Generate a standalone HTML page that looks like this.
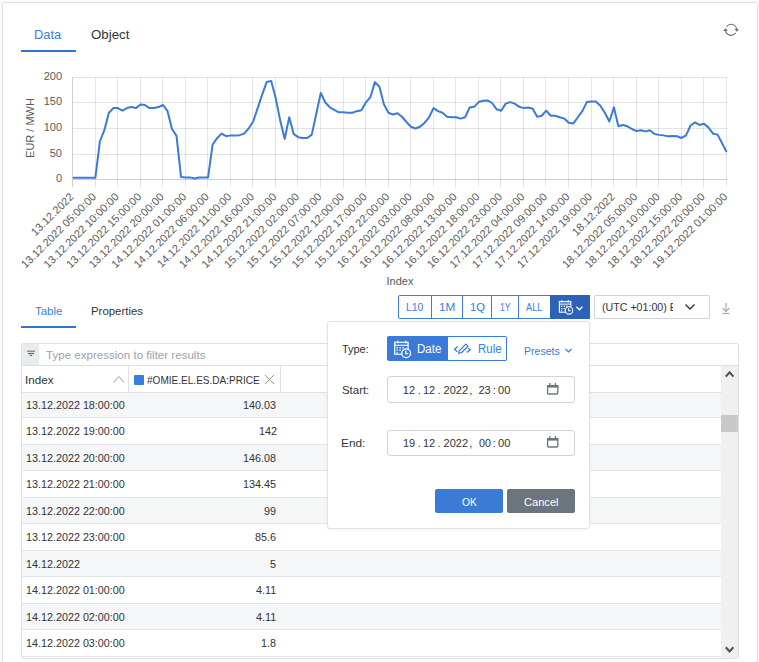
<!DOCTYPE html>
<html><head><meta charset="utf-8">
<style>
*{box-sizing:border-box;margin:0;padding:0}
html,body{width:759px;height:662px;overflow:hidden;background:#f8f9fa;font-family:"Liberation Sans",sans-serif;color:#333}
.abs{position:absolute}
.t{position:absolute;white-space:nowrap}
#panel{position:absolute;left:2px;top:2px;width:756px;height:700px;background:#fff;border:1px solid #dee2e6;border-radius:3px}
svg{position:absolute;overflow:visible}
.yl,.xl,.yt{font-family:"Liberation Sans",sans-serif;font-size:11px;fill:#5a5a5a}
.row{position:absolute;left:22px;width:699px;border-bottom:1px solid #e1e4e8}
</style></head><body>
<div id="panel"></div>
<div class="abs" style="left:21px;top:50px;width:55px;height:2px;background:#2f72d8"></div>
<!-- refresh icon -->
<svg style="left:722px;top:21px" width="18" height="18" viewBox="0 0 18 18">
<path d="M4.6 5.6 A5.5 5.5 0 0 1 14.6 8.3" fill="none" stroke="#727272" stroke-width="1.1"/>
<path d="M13.6 11.9 A5.5 5.5 0 0 1 3.6 9.4" fill="none" stroke="#727272" stroke-width="1.1"/>
<path d="M12.3 7.9 L17.1 7.9 L14.7 10.8 Z" fill="#727272"/>
<path d="M1.1 9.9 L5.9 9.9 L3.5 7.0 Z" fill="#727272"/>
</svg>
<svg style="left:0;top:0" width="759" height="300" viewBox="0 0 759 300">
<line x1="72" y1="179.5" x2="727" y2="179.5" stroke="#d0d0d0" stroke-width="1"/>
<text x="62" y="182.30" text-anchor="end" class="yl">0</text>
<line x1="72" y1="154.5" x2="727" y2="154.5" stroke="rgba(0,0,0,0.105)" stroke-width="1"/>
<text x="62" y="157.30" text-anchor="end" class="yl">50</text>
<line x1="72" y1="128.5" x2="727" y2="128.5" stroke="rgba(0,0,0,0.105)" stroke-width="1"/>
<text x="62" y="131.30" text-anchor="end" class="yl">100</text>
<line x1="72" y1="102.5" x2="727" y2="102.5" stroke="rgba(0,0,0,0.105)" stroke-width="1"/>
<text x="62" y="105.30" text-anchor="end" class="yl">150</text>
<line x1="72" y1="77.5" x2="727" y2="77.5" stroke="rgba(0,0,0,0.105)" stroke-width="1"/>
<text x="62" y="80.30" text-anchor="end" class="yl">200</text>
<line x1="72.5" y1="77" x2="72.5" y2="187" stroke="#d0d0d0" stroke-width="1"/>
<text transform="translate(74.40,197.5) rotate(-45)" text-anchor="end" class="xl">13.12.2022</text>
<line x1="95.5" y1="77" x2="95.5" y2="187" stroke="rgba(0,0,0,0.105)" stroke-width="1"/>
<text transform="translate(96.94,197.5) rotate(-45)" text-anchor="end" class="xl">13.12.2022 05:00:00</text>
<line x1="117.5" y1="77" x2="117.5" y2="187" stroke="rgba(0,0,0,0.105)" stroke-width="1"/>
<text transform="translate(119.49,197.5) rotate(-45)" text-anchor="end" class="xl">13.12.2022 10:00:00</text>
<line x1="140.5" y1="77" x2="140.5" y2="187" stroke="rgba(0,0,0,0.105)" stroke-width="1"/>
<text transform="translate(142.03,197.5) rotate(-45)" text-anchor="end" class="xl">13.12.2022 15:00:00</text>
<line x1="162.5" y1="77" x2="162.5" y2="187" stroke="rgba(0,0,0,0.105)" stroke-width="1"/>
<text transform="translate(164.58,197.5) rotate(-45)" text-anchor="end" class="xl">13.12.2022 20:00:00</text>
<line x1="185.5" y1="77" x2="185.5" y2="187" stroke="rgba(0,0,0,0.105)" stroke-width="1"/>
<text transform="translate(187.12,197.5) rotate(-45)" text-anchor="end" class="xl">14.12.2022 01:00:00</text>
<line x1="207.5" y1="77" x2="207.5" y2="187" stroke="rgba(0,0,0,0.105)" stroke-width="1"/>
<text transform="translate(209.67,197.5) rotate(-45)" text-anchor="end" class="xl">14.12.2022 06:00:00</text>
<line x1="230.5" y1="77" x2="230.5" y2="187" stroke="rgba(0,0,0,0.105)" stroke-width="1"/>
<text transform="translate(232.21,197.5) rotate(-45)" text-anchor="end" class="xl">14.12.2022 11:00:00</text>
<line x1="252.5" y1="77" x2="252.5" y2="187" stroke="rgba(0,0,0,0.105)" stroke-width="1"/>
<text transform="translate(254.76,197.5) rotate(-45)" text-anchor="end" class="xl">14.12.2022 16:00:00</text>
<line x1="275.5" y1="77" x2="275.5" y2="187" stroke="rgba(0,0,0,0.105)" stroke-width="1"/>
<text transform="translate(277.30,197.5) rotate(-45)" text-anchor="end" class="xl">14.12.2022 21:00:00</text>
<line x1="297.5" y1="77" x2="297.5" y2="187" stroke="rgba(0,0,0,0.105)" stroke-width="1"/>
<text transform="translate(299.85,197.5) rotate(-45)" text-anchor="end" class="xl">15.12.2022 02:00:00</text>
<line x1="320.5" y1="77" x2="320.5" y2="187" stroke="rgba(0,0,0,0.105)" stroke-width="1"/>
<text transform="translate(322.39,197.5) rotate(-45)" text-anchor="end" class="xl">15.12.2022 07:00:00</text>
<line x1="343.5" y1="77" x2="343.5" y2="187" stroke="rgba(0,0,0,0.105)" stroke-width="1"/>
<text transform="translate(344.94,197.5) rotate(-45)" text-anchor="end" class="xl">15.12.2022 12:00:00</text>
<line x1="365.5" y1="77" x2="365.5" y2="187" stroke="rgba(0,0,0,0.105)" stroke-width="1"/>
<text transform="translate(367.48,197.5) rotate(-45)" text-anchor="end" class="xl">15.12.2022 17:00:00</text>
<line x1="388.5" y1="77" x2="388.5" y2="187" stroke="rgba(0,0,0,0.105)" stroke-width="1"/>
<text transform="translate(390.03,197.5) rotate(-45)" text-anchor="end" class="xl">15.12.2022 22:00:00</text>
<line x1="410.5" y1="77" x2="410.5" y2="187" stroke="rgba(0,0,0,0.105)" stroke-width="1"/>
<text transform="translate(412.57,197.5) rotate(-45)" text-anchor="end" class="xl">16.12.2022 03:00:00</text>
<line x1="433.5" y1="77" x2="433.5" y2="187" stroke="rgba(0,0,0,0.105)" stroke-width="1"/>
<text transform="translate(435.12,197.5) rotate(-45)" text-anchor="end" class="xl">16.12.2022 08:00:00</text>
<line x1="455.5" y1="77" x2="455.5" y2="187" stroke="rgba(0,0,0,0.105)" stroke-width="1"/>
<text transform="translate(457.66,197.5) rotate(-45)" text-anchor="end" class="xl">16.12.2022 13:00:00</text>
<line x1="478.5" y1="77" x2="478.5" y2="187" stroke="rgba(0,0,0,0.105)" stroke-width="1"/>
<text transform="translate(480.21,197.5) rotate(-45)" text-anchor="end" class="xl">16.12.2022 18:00:00</text>
<line x1="500.5" y1="77" x2="500.5" y2="187" stroke="rgba(0,0,0,0.105)" stroke-width="1"/>
<text transform="translate(502.75,197.5) rotate(-45)" text-anchor="end" class="xl">16.12.2022 23:00:00</text>
<line x1="523.5" y1="77" x2="523.5" y2="187" stroke="rgba(0,0,0,0.105)" stroke-width="1"/>
<text transform="translate(525.30,197.5) rotate(-45)" text-anchor="end" class="xl">17.12.2022 04:00:00</text>
<line x1="545.5" y1="77" x2="545.5" y2="187" stroke="rgba(0,0,0,0.105)" stroke-width="1"/>
<text transform="translate(547.84,197.5) rotate(-45)" text-anchor="end" class="xl">17.12.2022 09:00:00</text>
<line x1="568.5" y1="77" x2="568.5" y2="187" stroke="rgba(0,0,0,0.105)" stroke-width="1"/>
<text transform="translate(570.39,197.5) rotate(-45)" text-anchor="end" class="xl">17.12.2022 14:00:00</text>
<line x1="591.5" y1="77" x2="591.5" y2="187" stroke="rgba(0,0,0,0.105)" stroke-width="1"/>
<text transform="translate(592.93,197.5) rotate(-45)" text-anchor="end" class="xl">17.12.2022 19:00:00</text>
<line x1="613.5" y1="77" x2="613.5" y2="187" stroke="rgba(0,0,0,0.105)" stroke-width="1"/>
<text transform="translate(615.48,197.5) rotate(-45)" text-anchor="end" class="xl">18.12.2022</text>
<line x1="636.5" y1="77" x2="636.5" y2="187" stroke="rgba(0,0,0,0.105)" stroke-width="1"/>
<text transform="translate(638.02,197.5) rotate(-45)" text-anchor="end" class="xl">18.12.2022 05:00:00</text>
<line x1="658.5" y1="77" x2="658.5" y2="187" stroke="rgba(0,0,0,0.105)" stroke-width="1"/>
<text transform="translate(660.57,197.5) rotate(-45)" text-anchor="end" class="xl">18.12.2022 10:00:00</text>
<line x1="681.5" y1="77" x2="681.5" y2="187" stroke="rgba(0,0,0,0.105)" stroke-width="1"/>
<text transform="translate(683.11,197.5) rotate(-45)" text-anchor="end" class="xl">18.12.2022 15:00:00</text>
<line x1="703.5" y1="77" x2="703.5" y2="187" stroke="rgba(0,0,0,0.105)" stroke-width="1"/>
<text transform="translate(705.66,197.5) rotate(-45)" text-anchor="end" class="xl">18.12.2022 20:00:00</text>
<line x1="726.5" y1="77" x2="726.5" y2="187" stroke="rgba(0,0,0,0.105)" stroke-width="1"/>
<text transform="translate(728.20,197.5) rotate(-45)" text-anchor="end" class="xl">19.12.2022 01:00:00</text>
<polyline points="72.80,177.77 77.31,177.77 81.82,177.77 86.33,177.77 90.84,177.77 95.34,177.77 99.85,141.50 104.36,130.18 108.87,112.79 113.38,108.10 117.89,108.10 122.40,110.65 126.91,108.10 131.42,107.08 135.93,108.10 140.43,104.53 144.94,105.04 149.45,108.10 153.96,108.08 158.47,107.08 162.98,105.00 167.49,110.93 172.00,129.01 176.51,135.84 181.02,176.95 185.52,177.40 190.03,177.40 194.54,178.58 199.05,177.46 203.56,177.46 208.07,177.46 212.58,144.62 217.09,138.19 221.60,133.60 226.10,136.15 230.61,135.38 235.12,135.38 239.63,135.13 244.14,133.60 248.65,128.50 253.16,121.51 257.67,108.10 262.18,94.58 266.69,82.09 271.19,81.07 275.70,98.10 280.21,120.59 284.72,138.90 289.23,117.28 293.74,134.21 298.25,137.17 302.76,137.99 307.27,137.99 311.78,134.62 316.28,113.71 320.79,92.90 325.30,102.49 329.81,107.28 334.32,109.89 338.83,112.28 343.34,112.28 347.85,112.79 352.36,112.79 356.86,111.16 361.37,110.19 365.88,102.39 370.39,97.19 374.90,82.09 379.41,86.78 383.92,104.17 388.43,112.79 392.94,114.58 397.45,113.20 401.95,116.77 406.46,122.02 410.97,126.72 415.48,128.50 419.99,126.72 424.50,122.89 429.01,117.28 433.52,108.10 438.03,111.16 442.54,112.79 447.04,116.77 451.55,117.28 456.06,117.28 460.57,118.61 465.08,117.28 469.59,107.59 474.10,106.83 478.61,102.08 483.12,100.70 487.62,100.45 492.13,103.00 496.64,109.32 501.15,110.80 505.66,103.61 510.17,102.08 514.68,103.61 519.19,106.83 523.70,108.10 528.21,107.59 532.71,108.81 537.22,116.77 541.73,115.75 546.24,110.65 550.75,115.75 555.26,115.75 559.77,117.28 564.28,118.61 568.79,122.69 573.30,123.60 577.80,117.28 582.31,111.16 586.82,102.08 591.33,101.47 595.84,101.47 600.35,105.70 604.86,112.79 609.37,121.51 613.88,107.28 618.38,126.31 622.89,124.93 627.40,126.31 631.91,129.01 636.42,131.05 640.93,130.18 645.44,131.41 649.95,130.18 654.46,134.01 658.97,134.88 663.47,135.38 667.98,136.25 672.49,135.90 677.00,136.25 681.51,137.99 686.02,135.38 690.53,125.49 695.04,122.38 699.55,124.93 704.06,123.76 708.56,127.63 713.07,133.70 717.58,134.62 722.09,143.19 726.60,151.96" fill="none" stroke="#3a7bd8" stroke-width="2" stroke-linejoin="round"/>
<text transform="translate(34,128) rotate(-90)" text-anchor="middle" class="yt">EUR / MWH</text>
<text x="400" y="285" text-anchor="middle" class="yt">Index</text>
</svg>
<div class="abs" style="left:21px;top:326px;width:55px;height:2px;background:#2f72d8"></div>
<!-- range buttons -->
<div class="abs" style="left:398px;top:295px;width:153px;height:24px;border:1px solid #3b7ddd;border-radius:2px 0 0 2px;background:#fff"></div>
<div class="abs" style="left:430.5px;top:295px;width:1.5px;height:24px;background:#3b7ddd"></div>
<div class="abs" style="left:462px;top:295px;width:1px;height:24px;background:#3b7ddd"></div>
<div class="abs" style="left:491px;top:295px;width:1px;height:24px;background:#3b7ddd"></div>
<div class="abs" style="left:518px;top:295px;width:1px;height:24px;background:#3b7ddd"></div>
<div class="abs" style="left:550px;top:295px;width:40px;height:24px;background:#2d63b6"></div>
<svg style="left:550px;top:295px" width="40" height="24" viewBox="0 0 40 24">
 <rect x="9.4" y="6.6" width="11.4" height="10.6" fill="none" stroke="#fff" stroke-width="1.1"/>
 <line x1="9.4" y1="9.1" x2="20.8" y2="9.1" stroke="#fff" stroke-width="1"/>
 <line x1="11.8" y1="5.2" x2="11.8" y2="7.4" stroke="#fff" stroke-width="1.2"/>
 <line x1="18.4" y1="5.2" x2="18.4" y2="7.4" stroke="#fff" stroke-width="1.2"/>
 <path d="M10.9 10.6h1.5v1.3h-1.5zM13.5 10.6h1.5v1.3h-1.5zM16.1 10.6h1.5v1.3h-1.5zM10.9 13h1.5v1.3h-1.5zM13.5 13h1.5v1.3h-1.5zM10.9 15.2h1.5v1h-1.5z" fill="#fff" opacity="0.8"/>
 <circle cx="19" cy="15.4" r="3.7" fill="#2d63b6" stroke="#fff" stroke-width="1.1"/>
 <path d="M18.7 13.2v2.5h2" fill="none" stroke="#fff" stroke-width="1.1"/>
 <path d="M26.4 11.8 L29.4 14.8 L32.4 11.8" fill="none" stroke="#fff" stroke-width="1.3"/>
</svg>
<!-- tz select -->
<div class="abs" style="left:594px;top:295px;width:116px;height:24px;border:1px solid #cfd4da;border-radius:2px;background:#fff"></div>
<svg style="left:684px;top:302px" width="12" height="9" viewBox="0 0 12 9">
 <path d="M1.5 2.5 L6 7 L10.5 2.5" fill="none" stroke="#333" stroke-width="1.4"/>
</svg>
<!-- download icon -->
<svg style="left:720px;top:301px" width="12" height="14" viewBox="0 0 12 14">
 <line x1="6" y1="2" x2="6" y2="10" stroke="#a8a8a8" stroke-width="1.2"/>
 <path d="M2.6 7 L6 10.6 L9.4 7" fill="none" stroke="#a8a8a8" stroke-width="1.2"/>
 <line x1="2.6" y1="12.5" x2="9.4" y2="12.5" stroke="#a8a8a8" stroke-width="1.2"/>
</svg>
<!-- table frame -->
<div class="abs" style="left:21px;top:343px;width:718px;height:316px;border:1px solid #dde1e6;border-radius:2px;background:#fff"></div>
<div class="abs" style="left:22px;top:344px;width:17px;height:21px;background:#e9ecef"></div>
<svg style="left:22px;top:344px" width="17" height="21" viewBox="0 0 17 21">
 <line x1="5" y1="7.2" x2="13" y2="7.2" stroke="#666" stroke-width="1"/>
 <line x1="6" y1="9.4" x2="12" y2="9.4" stroke="#555" stroke-width="1"/>
 <line x1="7.6" y1="11.4" x2="10.2" y2="11.4" stroke="#555" stroke-width="1"/>
</svg>
<div class="abs" style="left:22px;top:365px;width:716px;height:1px;background:#dde1e6"></div>
<div class="abs" style="left:128px;top:366px;width:1px;height:26px;background:#dde1e6"></div>
<div class="abs" style="left:280px;top:366px;width:1px;height:26px;background:#dde1e6"></div>
<svg style="left:112px;top:374px" width="14" height="10" viewBox="0 0 14 10">
 <path d="M1.5 8.5 L6.8 2.5 L12 8.5" fill="none" stroke="#9a9a9a" stroke-width="1"/>
</svg>
<div class="abs" style="left:134px;top:375px;width:10px;height:9.5px;background:#3b7ddd;border-radius:1px"></div>
<svg style="left:264px;top:374px" width="11" height="11" viewBox="0 0 11 11">
 <path d="M1 1 L10 10 M10 1 L1 10" fill="none" stroke="#8a8a8a" stroke-width="0.9"/>
</svg>
<div class="t" style="left:34.47px;top:27.50px;font-size:13px;line-height:13px;color:#3b7ddd;transform:scaleX(0.9890);transform-origin:0 0;">Data</div>
<div class="t" style="left:90.60px;top:27.50px;font-size:13px;line-height:13px;color:#333;transform:scaleX(1.0229);transform-origin:0 0;">Object</div>
<div class="t" style="left:34.77px;top:306.08px;font-size:11.25px;line-height:11.25px;color:#3b7ddd;transform:scaleX(1.0170);transform-origin:0 0;">Table</div>
<div class="t" style="left:90.69px;top:306.08px;font-size:11.25px;line-height:11.25px;color:#333;transform:scaleX(1.0139);transform-origin:0 0;">Properties</div>
<div class="t" style="left:405.66px;top:301.59px;font-size:11px;line-height:11px;color:#3b7ddd;transform:scaleX(0.9501);transform-origin:0 0;">L10</div>
<div class="t" style="left:439.12px;top:301.59px;font-size:11px;line-height:11px;color:#3b7ddd;transform:scaleX(1.0643);transform-origin:0 0;">1M</div>
<div class="t" style="left:470.15px;top:301.59px;font-size:11px;line-height:11px;color:#3b7ddd;transform:scaleX(1.0293);transform-origin:0 0;">1Q</div>
<div class="t" style="left:500.05px;top:301.59px;font-size:11px;line-height:11px;color:#3b7ddd;transform:scaleX(0.7838);transform-origin:0 0;">1Y</div>
<div class="t" style="left:526.10px;top:301.59px;font-size:11px;line-height:11px;color:#3b7ddd;transform:scaleX(0.8364);transform-origin:0 0;">ALL</div>
<div class="abs" style="left:595px;top:296px;width:78px;height:22px;overflow:hidden"><div class="t" style="left:6.56px;top:5.59px;font-size:11px;line-height:11px;color:#333;transform:scaleX(0.9678);transform-origin:0 0;">(UTC +01:00) Europe</div></div>
<div class="t" style="left:45.67px;top:350.09px;font-size:11px;line-height:11px;color:#9ea3a8;transform:scaleX(1.0514);transform-origin:0 0;">Type expression to filter results</div>
<div class="t" style="left:25.25px;top:374.69px;font-size:11px;line-height:11px;color:#333;transform:scaleX(1.0622);transform-origin:0 0;">Index</div>
<div class="t" style="left:147.25px;top:374.69px;font-size:11px;line-height:11px;color:#333;transform:scaleX(0.9132);transform-origin:0 0;">#OMIE.EL.ES.DA:PRICE</div>
<div class="row" style="top:391.50px;height:26.50px;background:#f5f6f8"></div>
<div class="t" style="left:26.19px;top:399.69px;font-size:11px;line-height:11px;color:#333;transform:scaleX(0.9788);transform-origin:0 0;">13.12.2022 18:00:00</div>
<div class="t" style="left:243.38px;top:399.69px;font-size:11px;line-height:11px;color:#333;transform:scaleX(0.9788);transform-origin:0 0;">140.03</div>
<div class="row" style="top:418.00px;height:26.50px;background:#fff"></div>
<div class="t" style="left:26.19px;top:426.19px;font-size:11px;line-height:11px;color:#333;transform:scaleX(0.9788);transform-origin:0 0;">13.12.2022 19:00:00</div>
<div class="t" style="left:258.51px;top:426.19px;font-size:11px;line-height:11px;color:#333;transform:scaleX(0.9788);transform-origin:0 0;">142</div>
<div class="row" style="top:444.50px;height:26.50px;background:#f5f6f8"></div>
<div class="t" style="left:26.19px;top:452.69px;font-size:11px;line-height:11px;color:#333;transform:scaleX(0.9788);transform-origin:0 0;">13.12.2022 20:00:00</div>
<div class="t" style="left:243.38px;top:452.69px;font-size:11px;line-height:11px;color:#333;transform:scaleX(0.9788);transform-origin:0 0;">146.08</div>
<div class="row" style="top:471.00px;height:26.50px;background:#fff"></div>
<div class="t" style="left:26.19px;top:479.19px;font-size:11px;line-height:11px;color:#333;transform:scaleX(0.9788);transform-origin:0 0;">13.12.2022 21:00:00</div>
<div class="t" style="left:243.38px;top:479.19px;font-size:11px;line-height:11px;color:#333;transform:scaleX(0.9788);transform-origin:0 0;">134.45</div>
<div class="row" style="top:497.50px;height:26.50px;background:#f5f6f8"></div>
<div class="t" style="left:26.19px;top:505.69px;font-size:11px;line-height:11px;color:#333;transform:scaleX(0.9788);transform-origin:0 0;">13.12.2022 22:00:00</div>
<div class="t" style="left:264.43px;top:505.69px;font-size:11px;line-height:11px;color:#333;transform:scaleX(0.9788);transform-origin:0 0;">99</div>
<div class="row" style="top:524.00px;height:26.50px;background:#fff"></div>
<div class="t" style="left:26.19px;top:532.19px;font-size:11px;line-height:11px;color:#333;transform:scaleX(0.9788);transform-origin:0 0;">13.12.2022 23:00:00</div>
<div class="t" style="left:255.39px;top:532.19px;font-size:11px;line-height:11px;color:#333;transform:scaleX(0.9788);transform-origin:0 0;">85.6</div>
<div class="row" style="top:550.50px;height:26.50px;background:#f5f6f8"></div>
<div class="t" style="left:26.19px;top:558.69px;font-size:11px;line-height:11px;color:#333;transform:scaleX(0.9788);transform-origin:0 0;">14.12.2022</div>
<div class="t" style="left:270.36px;top:558.69px;font-size:11px;line-height:11px;color:#333;transform:scaleX(0.9788);transform-origin:0 0;">5</div>
<div class="row" style="top:577.00px;height:26.50px;background:#fff"></div>
<div class="t" style="left:26.19px;top:585.19px;font-size:11px;line-height:11px;color:#333;transform:scaleX(0.9788);transform-origin:0 0;">14.12.2022 01:00:00</div>
<div class="t" style="left:256.25px;top:585.19px;font-size:11px;line-height:11px;color:#333;transform:scaleX(0.9788);transform-origin:0 0;">4.11</div>
<div class="row" style="top:603.50px;height:26.50px;background:#f5f6f8"></div>
<div class="t" style="left:26.19px;top:611.69px;font-size:11px;line-height:11px;color:#333;transform:scaleX(0.9788);transform-origin:0 0;">14.12.2022 02:00:00</div>
<div class="t" style="left:256.25px;top:611.69px;font-size:11px;line-height:11px;color:#333;transform:scaleX(0.9788);transform-origin:0 0;">4.11</div>
<div class="row" style="top:630.00px;height:26.50px;background:#fff"></div>
<div class="t" style="left:26.19px;top:638.19px;font-size:11px;line-height:11px;color:#333;transform:scaleX(0.9788);transform-origin:0 0;">14.12.2022 03:00:00</div>
<div class="t" style="left:261.36px;top:638.19px;font-size:11px;line-height:11px;color:#333;transform:scaleX(0.9788);transform-origin:0 0;">1.8</div>
<div class="abs" style="left:22px;top:392px;width:699px;height:1px;background:#dde1e6"></div>
<!-- scrollbar -->
<div class="abs" style="left:721px;top:366px;width:17px;height:292px;background:#f0f0f0"></div>
<div class="abs" style="left:721px;top:415px;width:17px;height:17px;background:#c8c8c8"></div>
<svg style="left:721px;top:366px" width="17" height="14" viewBox="0 0 17 14">
 <path d="M4.8 10.6 L8.6 6.4 L12.4 10.6" fill="none" stroke="#505050" stroke-width="2.1"/>
</svg>
<svg style="left:721px;top:642px" width="17" height="14" viewBox="0 0 17 14">
 <path d="M4.8 5.3 L8.6 9.5 L12.4 5.3" fill="none" stroke="#505050" stroke-width="2.1"/>
</svg>
<!-- popup -->
<div class="abs" style="left:327px;top:321px;width:263px;height:208px;background:#fff;border:1px solid #dfe2e6;border-radius:3px;box-shadow:0 1px 3px rgba(0,0,0,0.06)"></div>
<div class="abs" style="left:387px;top:336px;width:61px;height:24.5px;background:#3a7ad9;border-radius:2px 0 0 2px"></div>
<div class="abs" style="left:447px;top:336px;width:60px;height:24.5px;border:1px solid #3a7ad9;border-left:none;border-radius:0 2px 2px 0"></div>
<svg style="left:388px;top:337px" width="30" height="23" viewBox="0 0 30 23">
 <rect x="6.7" y="5.3" width="13.4" height="11.9" fill="none" stroke="#fff" stroke-width="1.2"/>
 <line x1="6.7" y1="8.3" x2="20.1" y2="8.3" stroke="#fff" stroke-width="1.1"/>
 <line x1="9.6" y1="3.7" x2="9.6" y2="6.4" stroke="#fff" stroke-width="1.3"/>
 <line x1="17.7" y1="3.7" x2="17.7" y2="6.4" stroke="#fff" stroke-width="1.3"/>
 <path d="M8.4 10h1.6v1.5h-1.6zM11.3 10h1.6v1.5h-1.6zM14.2 10h1.6v1.5h-1.6zM8.4 12.6h1.6v1.5h-1.6zM11.3 12.6h1.6v1.5h-1.6zM8.4 15.2h1.6v1.2h-1.6z" fill="#fff" opacity="0.8"/>
 <circle cx="18.2" cy="16.3" r="4.4" fill="#3a7ad9" stroke="#fff" stroke-width="1.3"/>
 <path d="M17.8 13.6v3h2.5" fill="none" stroke="#fff" stroke-width="1.3"/>
</svg>
<svg style="left:448px;top:337px" width="30" height="23" viewBox="0 0 30 23">
 <path d="M9.7 9.4 L6.6 12.3 L9.4 14.7" fill="none" stroke="#3a7ad9" stroke-width="1.3"/>
 <path d="M20.2 11.1 L22.2 12.7 L18.8 15.5" fill="none" stroke="#3a7ad9" stroke-width="1.3"/>
 <path d="M10.6 16.3 L11.3 13.6 L17.9 7.1 L20.0 9.2 L13.4 15.7 Z" fill="none" stroke="#3a7ad9" stroke-width="1.2" stroke-linejoin="round"/>
</svg>
<svg style="left:563px;top:346px" width="11" height="9" viewBox="0 0 11 9">
 <path d="M2.4 3 L5.5 6 L8.6 3" fill="none" stroke="#3b7ddd" stroke-width="1.2"/>
</svg>
<div class="abs" style="left:387px;top:376px;width:188px;height:27px;border:1px solid #ced4da;border-radius:3px"></div>
<div class="abs" style="left:387px;top:429.5px;width:188px;height:26.5px;border:1px solid #ced4da;border-radius:3px"></div>
<svg style="left:545px;top:381px" width="16" height="15" viewBox="0 0 16 15">
 <rect x="2.6" y="4.6" width="10.2" height="8.4" rx="1" fill="none" stroke="#6c757d" stroke-width="1.3"/>
 <rect x="2" y="4" width="11.4" height="2.6" fill="#6c757d"/>
 <line x1="4.8" y1="2" x2="4.8" y2="4.5" stroke="#6c757d" stroke-width="1.3"/>
 <line x1="10.4" y1="2" x2="10.4" y2="4.5" stroke="#6c757d" stroke-width="1.3"/>
</svg>
<svg style="left:545px;top:434.3px" width="16" height="15" viewBox="0 0 16 15">
 <rect x="2.6" y="4.6" width="10.2" height="8.4" rx="1" fill="none" stroke="#6c757d" stroke-width="1.3"/>
 <rect x="2" y="4" width="11.4" height="2.6" fill="#6c757d"/>
 <line x1="4.8" y1="2" x2="4.8" y2="4.5" stroke="#6c757d" stroke-width="1.3"/>
 <line x1="10.4" y1="2" x2="10.4" y2="4.5" stroke="#6c757d" stroke-width="1.3"/>
</svg>
<div class="abs" style="left:435px;top:489px;width:68px;height:24px;background:#3a7bd5;border-radius:2px"></div>
<div class="abs" style="left:507px;top:489px;width:68px;height:24px;background:#6c757d;border-radius:2px"></div>
<div class="t" style="left:341.88px;top:343.99px;font-size:11px;line-height:11px;color:#333;">Type:</div>
<div class="t" style="left:417.48px;top:342.84px;font-size:12px;line-height:12px;color:#fff;transform:scaleX(0.9614);transform-origin:0 0;">Date</div>
<div class="t" style="left:477.78px;top:342.84px;font-size:12px;line-height:12px;color:#3b7ddd;transform:scaleX(0.9542);transform-origin:0 0;">Rule</div>
<div class="t" style="left:523.85px;top:346.19px;font-size:11px;line-height:11px;color:#3b7ddd;transform:scaleX(0.9604);transform-origin:0 0;">Presets</div>
<div class="t" style="left:342.19px;top:384.99px;font-size:11px;line-height:11px;color:#333;transform:scaleX(1.0384);transform-origin:0 0;">Start:</div>
<div class="t" style="left:341.05px;top:438.29px;font-size:11px;line-height:11px;color:#333;transform:scaleX(1.0755);transform-origin:0 0;">End:</div>
<div class="t" style="left:402.78px;top:384.79px;font-size:11px;line-height:11px;color:#333;">12</div>
<div class="t" style="left:417.71px;top:384.79px;font-size:11px;line-height:11px;color:#333;">.</div>
<div class="t" style="left:422.99px;top:384.79px;font-size:11px;line-height:11px;color:#333;transform:scaleX(0.9875);transform-origin:0 0;">12</div>
<div class="t" style="left:437.51px;top:384.79px;font-size:11px;line-height:11px;color:#333;">.</div>
<div class="t" style="left:443.55px;top:384.79px;font-size:11px;line-height:11px;color:#333;">2022</div>
<div class="t" style="left:469.21px;top:384.79px;font-size:11px;line-height:11px;color:#333;">,</div>
<div class="t" style="left:478.45px;top:384.79px;font-size:11px;line-height:11px;color:#333;">23</div>
<div class="t" style="left:492.71px;top:384.79px;font-size:11px;line-height:11px;color:#333;">:</div>
<div class="t" style="left:498.36px;top:384.79px;font-size:11px;line-height:11px;color:#333;transform:scaleX(1.0101);transform-origin:0 0;">00</div>
<div class="t" style="left:402.78px;top:438.09px;font-size:11px;line-height:11px;color:#333;transform:scaleX(0.9917);transform-origin:0 0;">19</div>
<div class="t" style="left:417.71px;top:438.09px;font-size:11px;line-height:11px;color:#333;">.</div>
<div class="t" style="left:422.99px;top:438.09px;font-size:11px;line-height:11px;color:#333;transform:scaleX(0.9875);transform-origin:0 0;">12</div>
<div class="t" style="left:437.51px;top:438.09px;font-size:11px;line-height:11px;color:#333;">.</div>
<div class="t" style="left:443.55px;top:438.09px;font-size:11px;line-height:11px;color:#333;">2022</div>
<div class="t" style="left:469.21px;top:438.09px;font-size:11px;line-height:11px;color:#333;">,</div>
<div class="t" style="left:478.57px;top:438.09px;font-size:11px;line-height:11px;color:#333;transform:scaleX(0.9838);transform-origin:0 0;">00</div>
<div class="t" style="left:492.71px;top:438.09px;font-size:11px;line-height:11px;color:#333;">:</div>
<div class="t" style="left:498.36px;top:438.09px;font-size:11px;line-height:11px;color:#333;transform:scaleX(1.0101);transform-origin:0 0;">00</div>
<div class="t" style="left:462.14px;top:497.19px;font-size:11px;line-height:11px;color:#fff;transform:scaleX(0.9353);transform-origin:0 0;">OK</div>
<div class="t" style="left:523.75px;top:497.19px;font-size:11px;line-height:11px;color:#fff;transform:scaleX(1.0077);transform-origin:0 0;">Cancel</div>
</body></html>
